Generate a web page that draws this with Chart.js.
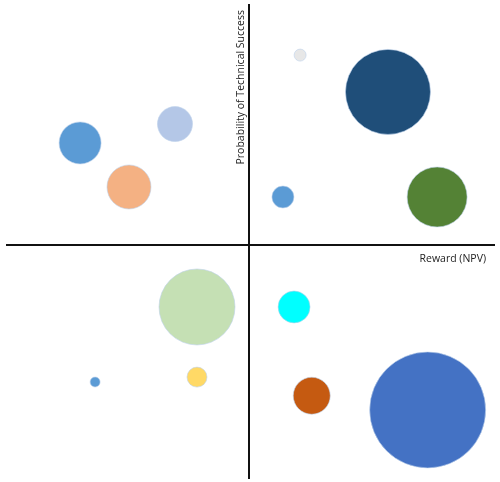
<!DOCTYPE html>
<html>
<head>
<meta charset="utf-8">
<script src="https://cdn.jsdelivr.net/npm/chart.js@4"></script>
<style>
  body { margin: 0; background: #fff; }
</style>
</head>
<body>
<canvas id="riskChart" width="500" height="482"></canvas>
<script>
// Reward (x), probability (y) relative to the axis crossing, bubble radius in px
const projectNames = ['A', 'B', 'C', 'D', 'E', 'F', 'G', 'H', 'I', 'J', 'K', 'L', 'M'];
const rewardValues = [2.11, 5.74, 1.40, 7.77, -6.98, -3.06, -4.96, -2.15, -6.36, -2.15, 1.86, 2.59, 7.38];
const probabilityValues = [8.15, 6.57, 2.06, 2.06, 4.38, 5.19, 2.49, -2.66, -5.88, -5.67, -2.66, -6.47, -7.08];
const bubbleSizes = [6, 42.5, 11, 30, 21, 17.5, 22, 38, 5, 10, 16, 18.5, 58];
const bubbleColors = ['#e7e7e7', '#1f4e79', '#5b9bd5', '#548235', '#5b9bd5', '#b4c7e7', '#f4b183',
                      '#c5e0b4', '#5b9bd5', '#ffd966', '#00ffff', '#c55a11', '#4472c4'];

const xTitle = 'Reward (NPV)';
const yTitle = 'Probability of Technical Success';

const axisTitles = {
    id: 'axisTitles',
    afterDraw(chart) {
        const ctx = chart.ctx;
        const xs = chart.scales.x, ys = chart.scales.y;
        const x0 = xs.getPixelForValue(0);
        const y0 = ys.getPixelForValue(0);
        ctx.save();
        ctx.fillStyle = '#222';
        ctx.font = '10.5px "Open Sans"';
        ctx.textAlign = 'right';
        ctx.textBaseline = 'middle';
        ctx.fillText(xTitle, chart.chartArea.right - 8, y0 + 14);
        ctx.translate(x0 - 8, chart.chartArea.top + 5);
        ctx.rotate(-Math.PI / 2);
        ctx.fillText(yTitle, 0, 0);
        ctx.restore();
    }
};

const ctx = document.getElementById('riskChart').getContext('2d');
new Chart(ctx, {
    type: 'bubble',
    data: {
        datasets: [{
            label: 'Projekte',
            data: projectNames.map((n, i) => ({ x: rewardValues[i], y: probabilityValues[i], r: bubbleSizes[i] })),
            backgroundColor: bubbleColors,
            borderColor: 'rgba(190, 210, 235, 0.6)',
            borderWidth: 1
        }]
    },
    options: {
        responsive: false,
        animation: false,
        layout: { autoPadding: false, padding: { left: 7, right: 6, top: 5, bottom: 4 } },
        plugins: { legend: { display: false }, tooltip: { enabled: false } },
        scales: {
            x: {
                type: 'linear', min: -10, max: 10.12,
                position: { y: 0 },
                grid: { display: false },
                ticks: { display: false },
                border: { display: true, color: '#111', width: 2 }
            },
            y: {
                type: 'linear', min: -10, max: 10.3,
                position: { x: 0 },
                grid: { display: false },
                ticks: { display: false },
                border: { display: true, color: '#111', width: 2 }
            }
        }
    },
    plugins: [axisTitles]
});
</script>
</body>
</html>
